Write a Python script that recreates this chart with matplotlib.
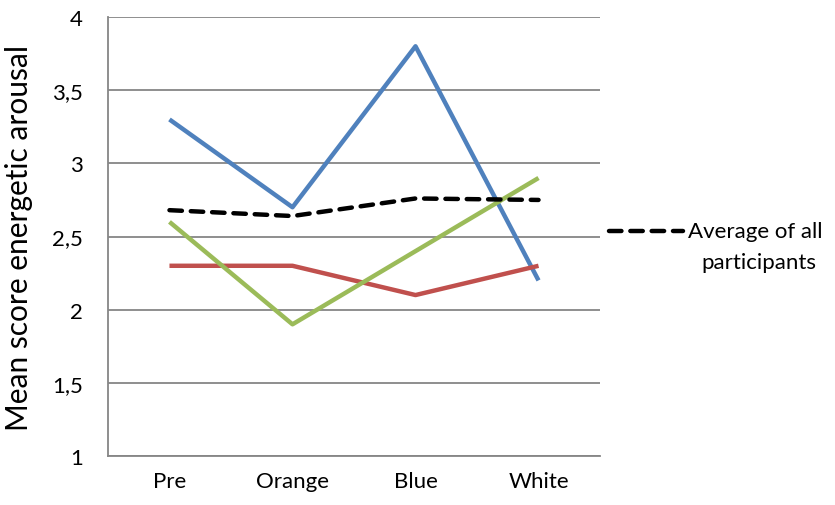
import matplotlib.pyplot as plt
from matplotlib.lines import Line2D
from matplotlib.ticker import FuncFormatter

plt.rcParams['font.family'] = ['Lato', 'DejaVu Sans']

conditions = ['Pre', 'Orange', 'Blue', 'White']
group_blue = [3.3, 2.7, 3.8, 2.2]
group_red = [2.3, 2.3, 2.1, 2.3]
group_green = [2.6, 1.9, 2.4, 2.9]
average_all = [2.68, 2.64, 2.76, 2.75]

yticks = [1, 1.5, 2, 2.5, 3, 3.5, 4]

fig = plt.figure(figsize=(8.35, 5.06), dpi=100)
ax = fig.add_axes([0.1293, 0.0968, 0.5893, 0.8676])

x = range(len(conditions))
ax.plot(x, group_blue, color='#4F81BD', lw=3.2, solid_capstyle='butt', zorder=3)
ax.plot(x, group_red, color='#C0504D', lw=3.2, solid_capstyle='butt', zorder=3)
ax.plot(x, group_green, color='#9BBB59', lw=3.2, solid_capstyle='butt', zorder=3)
ax.plot(x, average_all, color='black', lw=3.2, dashes=(2.8, 2.0),
        dash_capstyle='round', zorder=4)

ax.set_xlim(-0.5, 3.5)
ax.set_ylim(1, 4)
ax.set_yticks(yticks)
ax.yaxis.set_major_formatter(FuncFormatter(lambda v, p: ('%g' % v).replace('.', ',')))
ax.set_xticks(list(x))
ax.set_xticklabels(conditions)
ax.tick_params(axis='y', length=0, pad=18, labelsize=16)
ax.tick_params(axis='x', length=0, pad=11, labelsize=16)

ax.grid(axis='y', color='#868686', lw=1.3)
ax.set_axisbelow(True)
for side in ['top', 'right']:
    ax.spines[side].set_visible(False)
for side in ['left', 'bottom']:
    ax.spines[side].set_color('#868686')
    ax.spines[side].set_linewidth(1.3)

ax.set_ylabel('Mean score energetic arousal', fontsize=21.5)
ax.yaxis.set_label_coords(-0.152, 0.5)

# legend entry for the average line, to the right of the plot
ax.add_line(Line2D([1.018, 1.168], [0.513, 0.513], transform=ax.transAxes,
                   color='black', lw=3.2, dashes=(2.8, 2.0), dash_capstyle='round',
                   clip_on=False))
ax.text(1.178, 0.513, 'Average of all', transform=ax.transAxes, fontsize=16,
        va='center', ha='left')
ax.text(1.205, 0.442, 'participants', transform=ax.transAxes, fontsize=16,
        va='center', ha='left')

fig.savefig('out.png', dpi=100)
